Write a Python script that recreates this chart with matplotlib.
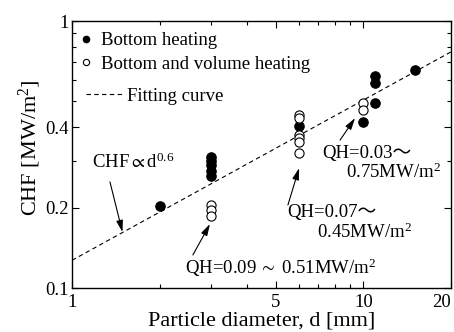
import matplotlib
matplotlib.use('Agg')
import matplotlib.pyplot as plt
import numpy as np
from matplotlib.lines import Line2D
from matplotlib.ticker import FixedLocator, NullFormatter

plt.rcParams['font.family'] = ['Liberation Serif', 'Noto Sans CJK JP']
plt.rcParams['mathtext.fontset'] = 'custom'
plt.rcParams['mathtext.rm'] = 'Liberation Serif'
plt.rcParams['mathtext.it'] = 'Liberation Serif:italic'
plt.rcParams['mathtext.fallback'] = 'stix'

# bottom heating (filled)
d_bottom = [2, 3, 3, 3, 3, 3, 6, 10, 11, 11, 11, 15]
chf_bottom = [0.203, 0.31, 0.30, 0.288, 0.274, 0.262, 0.403, 0.42, 0.62, 0.586, 0.493, 0.658]

# bottom and volume heating (open)
d_volume = [3, 3, 3, 6, 6, 6, 6, 6, 6, 10, 10]
chf_volume = [0.205, 0.196, 0.186, 0.445, 0.433, 0.374, 0.364, 0.352, 0.320, 0.493, 0.464]

# fitting curve CHF = c * d^0.6
fit_c = 0.127
fit_n = 0.6
d_fit = np.array([1.0, 20.0])

x_major = [1, 5, 10, 20]
x_minor = [2, 3, 4, 6, 7, 8, 9]
y_major = [0.1, 0.2, 0.4, 1]
y_minor = [0.3, 0.5, 0.6, 0.7, 0.8, 0.9]

fig = plt.figure(figsize=(4.54, 3.32), dpi=100)
ax = fig.add_axes([0.1586, 0.1325, 0.8348, 0.8042])

ax.plot(d_fit, fit_c * d_fit ** fit_n, color='k', lw=0.8, dashes=(4, 3))
ax.plot(d_bottom, chf_bottom, 'o', color='k', ms=6.8, mew=0.8, zorder=3)
ax.plot(d_volume, chf_volume, 'o', mfc='white', mec='k', ms=6.6, mew=0.8, zorder=3)

ax.set_xscale('log')
ax.set_yscale('log')
ax.set_xlim(1, 20)
ax.set_ylim(0.1, 1)

ax.xaxis.set_major_locator(FixedLocator(x_major))
ax.xaxis.set_minor_locator(FixedLocator(x_minor))
ax.yaxis.set_major_locator(FixedLocator(y_major))
ax.yaxis.set_minor_locator(FixedLocator(y_minor))
ax.set_xticklabels([str(v) for v in x_major])
ax.set_yticklabels(['0.1', '0.2', '0.4', '1'])
ax.xaxis.set_minor_formatter(NullFormatter())
ax.yaxis.set_minor_formatter(NullFormatter())
ax.tick_params(which='both', direction='in', top=True, right=True, width=0.8, labelsize=13.5)
ax.tick_params(which='major', length=5)
ax.tick_params(which='minor', length=3)
ax.tick_params(axis='x', pad=4)
ax.tick_params(axis='y', pad=2)
ax.get_xticklabels()[-1].set_ha('right')
for s in ax.spines.values():
    s.set_linewidth(1.0)

ax.set_xlabel('Particle diameter, d [mm]', fontsize=16, labelpad=1)
ax.set_ylabel('CHF [MW/m$^2$]', fontsize=16, labelpad=2)
ax.yaxis.label.set_y(0.525)

# legends
h1 = [Line2D([], [], ls='none', marker='o', color='k', ms=4.5),
      Line2D([], [], ls='none', marker='o', mfc='white', mec='k', ms=4.5, mew=0.8)]
leg1 = ax.legend(h1, ['Bottom heating', 'Bottom and volume heating'], loc='upper left',
                 bbox_to_anchor=(0.012, 0.958), frameon=False, fontsize=13.5,
                 handlelength=1.0, handletextpad=0.3, labelspacing=0.33, borderpad=0, borderaxespad=0)
ax.add_artist(leg1)
h2 = [Line2D([], [], color='k', lw=0.8, dashes=(4, 3))]
ax.legend(h2, ['Fitting curve'], loc='center left', bbox_to_anchor=(0.037, 0.719),
          frameon=False, fontsize=13.5, handlelength=1.9, handletextpad=0.3,
          borderpad=0, borderaxespad=0)

arrow = dict(arrowstyle='-|>,head_length=0.7,head_width=0.2', color='k', lw=0.8, shrinkA=0, shrinkB=0)
fs = 13.5
ax.text(1.171, 0.296, r'CHF$\propto$d$^{0.6}$', fontsize=fs, ha='left', va='center')
ax.annotate('', xy=(1.49, 0.162), xytext=(1.35, 0.2495), arrowprops=arrow)

ax.text(2.44, 0.1188, r'QH=0.09$\;\sim\;$0.51MW/m$^2$', fontsize=fs, ha='left', va='center')
ax.annotate('', xy=(2.976, 0.1737), xytext=(2.60, 0.133), arrowprops=arrow)

ax.text(5.46, 0.191, 'QH=0.07～', fontsize=fs, ha='left', va='center')
ax.text(6.92, 0.162, '0.45MW/m$^2$', fontsize=fs, ha='left', va='center')
ax.annotate('', xy=(6.02, 0.2814), xytext=(5.51, 0.2046), arrowprops=arrow)

ax.text(7.2, 0.320, 'QH=0.03～', fontsize=fs, ha='left', va='center')
ax.text(8.72, 0.272, '0.75MW/m$^2$', fontsize=fs, ha='left', va='center')
ax.annotate('', xy=(9.37, 0.433), xytext=(8.32, 0.358), arrowprops=arrow)

fig.savefig('out.png', dpi=100)
